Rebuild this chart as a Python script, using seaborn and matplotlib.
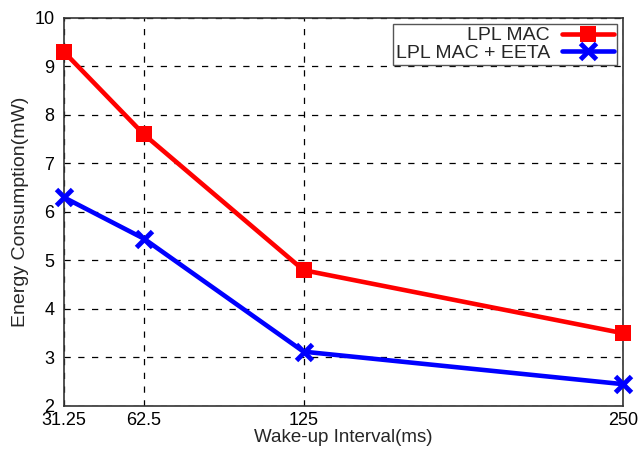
import matplotlib
matplotlib.use("Agg")
import matplotlib.pyplot as plt
import seaborn as sns
import pandas as pd

intervals = [31.25, 62.5, 125, 250]
x_tick_labels = ["31.25", "62.5", "125", "250"]
lpl_mac = [9.3, 7.6, 4.8, 3.5]
lpl_mac_eeta = [6.3, 5.45, 3.12, 2.45]
series_names = ["LPL MAC", "LPL MAC + EETA"]

sns.set_style("white")
plt.rcParams['font.family'] = ['Liberation Sans', 'DejaVu Sans']

fig = plt.figure(figsize=(6.38, 4.49), dpi=100)
ax = fig.add_axes([0.1003, 0.0958, 0.8762, 0.8642])

df1 = pd.DataFrame({"x": intervals, "y": lpl_mac})
df2 = pd.DataFrame({"x": intervals, "y": lpl_mac_eeta})

sns.lineplot(data=df1, x="x", y="y", ax=ax, color="#ff0000", linewidth=3.3,
             marker="s", markersize=11, markeredgewidth=0, markeredgecolor="#ff0000",
             label=series_names[0], clip_on=False, zorder=5)
sns.lineplot(data=df2, x="x", y="y", ax=ax, color="#0000ff", linewidth=3.3,
             marker="x", markersize=12, markeredgewidth=3.5, markeredgecolor="#0000ff",
             label=series_names[1], clip_on=False, zorder=5)

ax.set_xlim(31.25, 250)
ax.set_ylim(2, 10)
ax.set_xticks(intervals)
ax.set_xticklabels(x_tick_labels)
ax.set_yticks(range(2, 11))
ax.tick_params(axis="both", direction="in", length=0, labelsize=13, colors="black")
ax.tick_params(axis="x", pad=4)
ax.tick_params(axis="y", pad=7)
ax.grid(True, linestyle=(0, (5, 6)), color="black", linewidth=0.9)
for s in ax.spines.values():
    s.set_color("#333333")
    s.set_linewidth(1.2)
ax.set_xlabel("Wake-up Interval(ms)", fontsize=13.5, labelpad=0)
ax.set_ylabel("Energy Consumption(mW)", fontsize=14, labelpad=4)

leg = ax.legend(loc="upper right", markerfirst=False, fontsize=14, frameon=True,
                fancybox=False, edgecolor="#555555", framealpha=1, borderpad=0.15,
                handlelength=2.7, handletextpad=0.6, labelspacing=0.0,
                borderaxespad=0.3)
leg.get_frame().set_linewidth(1)
for t in leg.get_texts():
    t.set_ha("right")

fig.savefig("out.png", dpi=100)
